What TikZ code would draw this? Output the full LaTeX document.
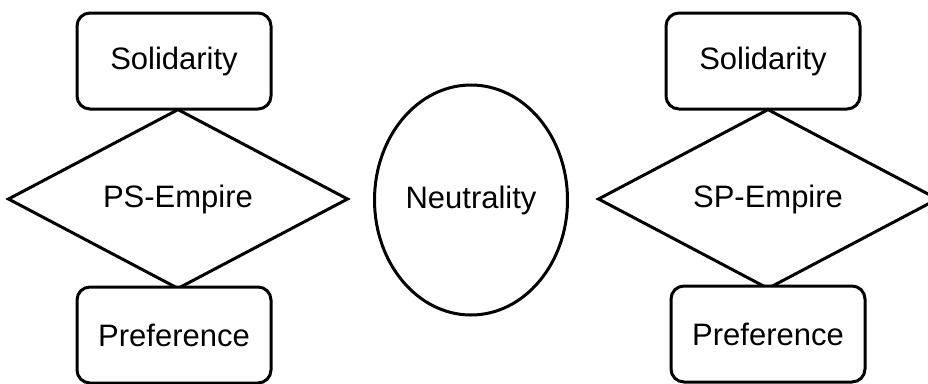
\documentclass[tikz,border=0pt]{standalone}
\usepackage{fontspec}
\setmainfont{Liberation Sans}
\usetikzlibrary{shapes.geometric}
\begin{document}
\begin{tikzpicture}[x=1pt,y=-1pt,
  box/.style={draw, line width=3pt, rounded corners=13pt, minimum width=194pt, minimum height=96pt, inner sep=0pt, outer sep=0pt, font=\fontsize{31}{31}\selectfont},
  dia/.style={draw, diamond, line width=3pt, minimum width=339pt, minimum height=174pt, inner sep=0pt, outer sep=0pt, font=\fontsize{31}{31}\selectfont},
  ell/.style={draw, ellipse, line width=3pt, minimum width=193pt, minimum height=230pt, inner sep=0pt, outer sep=0pt, font=\fontsize{31}{31}\selectfont}
]
\useasboundingbox (0,0) rectangle (928,383);
\clip (0,0) rectangle (928,383);
\fill[white] (0,0) rectangle (928,383);
% left group
\node[dia] (ps) at (178,199) {PS-Empire};
\node[box, fill=white] (sol1) at (174,61) {Solidarity};
\node[box, fill=white] (pref1) at (174,335) {Preference};
% middle
\node[ell] (neu) at (471,200) {Neutrality};
% right group
\node[dia] (sp) at (768,199) {SP-Empire};
\node[box, fill=white] (sol2) at (763,61) {Solidarity};
\node[box, fill=white] (pref2) at (768,334) {Preference};
\end{tikzpicture}
\end{document}
